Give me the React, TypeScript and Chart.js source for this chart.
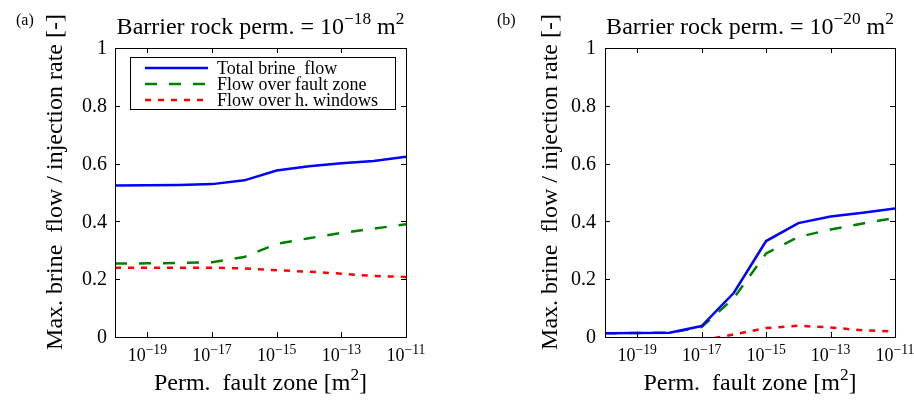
import React, { useEffect, useRef } from 'react';
import { Chart, registerables } from 'chart.js';

Chart.register(...registerables);

// ---- data ----
const PERM_FAULT = [1e-20, 1e-19, 1e-18, 1e-17, 1e-16, 1e-15, 1e-14, 1e-13, 1e-12, 1e-11];
const X_TICKS = [1e-19, 1e-17, 1e-15, 1e-13, 1e-11];
const X_TICK_EXPONENTS = ['\u221219', '\u221217', '\u221215', '\u221213', '\u221211'];
const Y_TICKS = [0, 0.2, 0.4, 0.6, 0.8, 1];
const Y_TICK_LABELS = ['0', '0.2', '0.4', '0.6', '0.8', '1'];

const SERIES_NAMES = ['Total brine  flow', 'Flow over fault zone', 'Flow over h. windows'];
const PANEL_LABELS = ['(a)', '(b)'];
const BARRIER_EXPONENTS = ['\u221218', '\u221220'];

// panel (a): barrier rock perm. = 1e-18 m2
const A_TOTAL = [0.524, 0.525, 0.526, 0.529, 0.542, 0.576, 0.591, 0.601, 0.609, 0.624];
const A_FAULT = [0.254, 0.255, 0.256, 0.259, 0.277, 0.322, 0.342, 0.36, 0.375, 0.39];
const A_WINDOWS = [0.24, 0.24, 0.24, 0.24, 0.237, 0.231, 0.226, 0.219, 0.211, 0.208];

// panel (b): barrier rock perm. = 1e-20 m2
const B_TOTAL = [0.013, 0.014, 0.015, 0.038, 0.153, 0.332, 0.394, 0.417, 0.43, 0.445];
const B_FAULT = [0.013, 0.014, 0.015, 0.034, 0.135, 0.289, 0.346, 0.372, 0.393, 0.412];
const B_WINDOWS = [null, null, null, -0.012, 0.009, 0.031, 0.039, 0.033, 0.023, 0.019];

// ---- styling ----
const FONT = '"Liberation Serif", "Times New Roman", Times, serif';
const COLORS = ['rgb(0,0,255)', 'rgb(0,128,0)', 'rgb(255,0,0)'];
const DASHES: number[][] = [[], [12, 12], [6, 7]];

type Part = [string, boolean];

function drawRich(
  ctx: CanvasRenderingContext2D,
  parts: Part[],
  x: number,
  y: number,
  size: number,
  supScale: number,
  raise: number,
  align: 'left' | 'center' | 'right'
) {
  const supSize = size * supScale;
  const widths = parts.map(([t, sup]) => {
    ctx.font = `${sup ? supSize : size}px ${FONT}`;
    return ctx.measureText(t).width;
  });
  const total = widths.reduce((a, b) => a + b, 0);
  let cx = align === 'center' ? x - total / 2 : align === 'right' ? x - total : x;
  ctx.textAlign = 'left';
  ctx.textBaseline = 'alphabetic';
  parts.forEach(([t, sup], i) => {
    ctx.font = `${sup ? supSize : size}px ${FONT}`;
    ctx.fillText(t, cx, sup ? y - raise : y);
    cx += widths[i];
  });
}

interface PanelCfg {
  label: string;
  exponent: string;
  labelX: number;
  yTitleOffset: number;
  yTickOffset: number;
  showLegend: boolean;
}

function makePlugin(cfg: PanelCfg) {
  return {
    id: 'matlabPanel',
    afterDraw(chart: any) {
      const ctx: CanvasRenderingContext2D = chart.ctx;
      const { left, right, top, bottom } = chart.chartArea;
      const xs = chart.scales.x;
      const ys = chart.scales.y;
      ctx.save();
      ctx.fillStyle = '#000';
      ctx.strokeStyle = '#000';
      ctx.lineWidth = 1;
      ctx.setLineDash([]);

      // box
      ctx.strokeRect(Math.round(left) + 0.5, Math.round(top) + 0.5, Math.round(right - left), Math.round(bottom - top));

      // ticks (inward)
      const tl = 5;
      ctx.beginPath();
      Y_TICKS.forEach((v) => {
        const py = Math.round(ys.getPixelForValue(v)) + 0.5;
        ctx.moveTo(left, py); ctx.lineTo(left + tl, py);
        ctx.moveTo(right, py); ctx.lineTo(right - tl, py);
      });
      X_TICKS.forEach((v) => {
        const px = Math.round(xs.getPixelForValue(v)) + 0.5;
        ctx.moveTo(px, bottom); ctx.lineTo(px, bottom - tl);
        ctx.moveTo(px, top); ctx.lineTo(px, top + tl);
      });
      ctx.stroke();

      // y tick labels
      ctx.font = `20px ${FONT}`;
      ctx.textAlign = 'right';
      ctx.textBaseline = 'middle';
      Y_TICKS.forEach((v, i) => {
        ctx.fillText(Y_TICK_LABELS[i], left - cfg.yTickOffset, ys.getPixelForValue(v) + 1);
      });

      // x tick labels: 10^exp
      X_TICKS.forEach((v, i) => {
        drawRich(ctx, [['10', false], [X_TICK_EXPONENTS[i], true]], xs.getPixelForValue(v), bottom + 24, 18, 0.76, 7, 'center');
      });

      // x title
      const cxp = (left + right) / 2;
      drawRich(ctx, [['Perm.  fault zone [m', false], ['2', true], [']', false]], cxp, bottom + 53, 24, 0.72, 10, 'center');

      // title
      drawRich(
        ctx,
        [['Barrier rock perm. = 10', false], [cfg.exponent, true], [' m', false], ['2', true]],
        cxp,
        top - 14,
        24,
        0.72,
        10,
        'center'
      );

      // y title
      ctx.save();
      ctx.translate(left - cfg.yTitleOffset, 182);
      ctx.rotate(-Math.PI / 2);
      ctx.font = `24px ${FONT}`;
      ctx.textAlign = 'center';
      ctx.textBaseline = 'alphabetic';
      ctx.fillText('Max. brine  flow / injection rate [-]', 0, 0);
      ctx.restore();

      // panel label
      ctx.font = `16px ${FONT}`;
      ctx.textAlign = 'left';
      ctx.textBaseline = 'alphabetic';
      ctx.fillText(cfg.label, cfg.labelX, 25);

      // legend
      if (cfg.showLegend) {
        const bx = left + 15, by = top + 9, bw = 265, bh = 52;
        ctx.fillStyle = '#fff';
        ctx.fillRect(bx, by, bw, bh);
        ctx.strokeStyle = '#000';
        ctx.lineWidth = 1;
        ctx.strokeRect(bx + 0.5, by + 0.5, bw, bh);
        SERIES_NAMES.forEach((name, i) => {
          const ly = by + 11 + i * 16;
          ctx.strokeStyle = COLORS[i];
          ctx.lineWidth = 2.5;
          ctx.setLineDash(DASHES[i]);
          ctx.beginPath();
          ctx.moveTo(bx + 15, ly);
          ctx.lineTo(bx + 78, ly);
          ctx.stroke();
          ctx.setLineDash([]);
          ctx.fillStyle = '#000';
          ctx.font = `18px ${FONT}`;
          ctx.textAlign = 'left';
          ctx.textBaseline = 'middle';
          ctx.fillText(name, bx + 87, ly + 1);
        });
      }
      ctx.restore();
    },
  };
}

function buildChart(canvas: HTMLCanvasElement, series: (number | null)[][], padding: any, cfg: PanelCfg) {
  return new Chart(canvas, {
    type: 'line',
    data: {
      datasets: series.map((vals, i) => ({
        label: SERIES_NAMES[i],
        data: PERM_FAULT.map((x, j) => ({ x, y: vals[j] as any })),
        borderColor: COLORS[i],
        borderWidth: 2.5,
        borderDash: DASHES[i],
        pointRadius: 0,
        tension: 0,
        fill: false,
        clip: 0,
      })),
    },
    options: {
      animation: false,
      responsive: false,
      events: [],
      layout: { padding },
      scales: {
        x: { type: 'logarithmic', min: 1e-20, max: 1e-11, display: false },
        y: { type: 'linear', min: 0, max: 1, display: false },
      },
      plugins: { legend: { display: false }, tooltip: { enabled: false }, title: { display: false } },
    },
    plugins: [makePlugin(cfg)],
  } as any);
}

export default function App() {
  const leftRef = useRef<HTMLCanvasElement>(null);
  const rightRef = useRef<HTMLCanvasElement>(null);

  useEffect(() => {
    document.body.style.margin = '0';
    const c1 = buildChart(
      leftRef.current!,
      [A_TOTAL, A_FAULT, A_WINDOWS],
      { left: 115, right: 51, top: 48, bottom: 67 },
      { label: PANEL_LABELS[0], exponent: BARRIER_EXPONENTS[0], labelX: 16, yTitleOffset: 53, yTickOffset: 8, showLegend: true }
    );
    const c2 = buildChart(
      rightRef.current!,
      [B_TOTAL, B_FAULT, B_WINDOWS],
      { left: 148, right: 19, top: 48, bottom: 67 },
      { label: PANEL_LABELS[1], exponent: BARRIER_EXPONENTS[1], labelX: 40, yTitleOffset: 48, yTickOffset: 9, showLegend: false }
    );
    return () => {
      c1.destroy();
      c2.destroy();
    };
  }, []);

  return (
    <div style={{ position: 'absolute', left: 0, top: 0, width: 914, height: 404, background: '#fff' }}>
      <canvas ref={leftRef} width={457} height={404} style={{ position: 'absolute', left: 0, top: 0 }} />
      <canvas ref={rightRef} width={457} height={404} style={{ position: 'absolute', left: 457, top: 0 }} />
    </div>
  );
}
